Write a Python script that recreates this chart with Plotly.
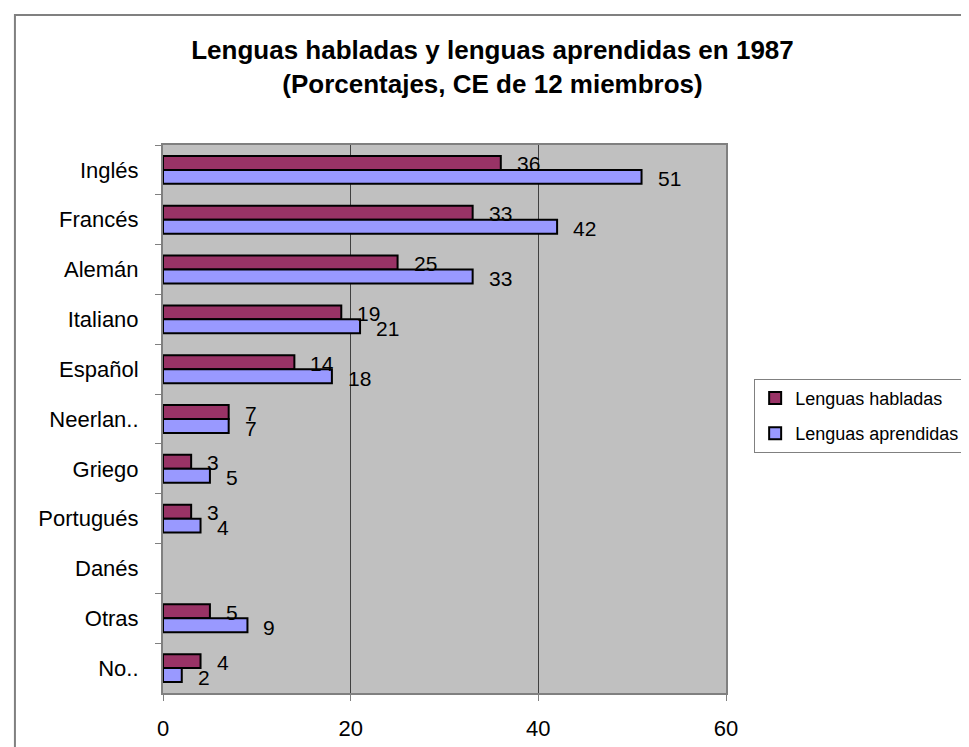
import plotly.graph_objects as go

categories = ["Inglés", "Francés", "Alemán", "Italiano", "Español", "Neerlan..",
              "Griego", "Portugués", "Danés", "Otras", "No.."]
habladas = [36, 33, 25, 19, 14, 7, 3, 3, None, 5, 4]
aprendidas = [51, 42, 33, 21, 18, 7, 5, 4, None, 9, 2]
x_ticks = [0, 20, 40, 60]

FONT = "Arial, Liberation Sans, sans-serif"
RED = "#993366"
BLUE = "#9999FF"
FS = 22

fig = go.Figure()
fig.add_trace(go.Bar(y=categories, x=habladas, orientation="h", name="Lenguas habladas",
                     legendgroup="h",
                     marker=dict(color=RED, line=dict(color="black", width=2))))
fig.add_trace(go.Bar(y=categories, x=aprendidas, orientation="h", name="Lenguas aprendidas",
                     legendgroup="a",
                     marker=dict(color=BLUE, line=dict(color="black", width=2))))

annotations = []
for cat, v in zip(categories, habladas):
    if v is not None:
        annotations.append(dict(x=v, y=cat, text=str(v), showarrow=False, xanchor="left",
                                xshift=14, yshift=6, font=dict(size=21, color="black", family=FONT)))
for cat, v in zip(categories, aprendidas):
    if v is not None:
        annotations.append(dict(x=v, y=cat, text=str(v), showarrow=False, xanchor="left",
                                xshift=14, yshift=-9, font=dict(size=21, color="black", family=FONT)))

fig.update_layout(
    width=969, height=747,
    margin=dict(l=155, r=251, t=137, b=62, autoexpand=False),
    paper_bgcolor="white", plot_bgcolor="#C0C0C0",
    barmode="group", bargap=0.44, bargroupgap=0,
    font=dict(family=FONT, size=FS, color="black"),
    title=dict(text="<b>Lenguas habladas y lenguas aprendidas en 1987<br>(Porcentajes, CE de 12 miembros)</b>",
               x=0.5, xanchor="center", y=0.932, yanchor="middle",
               font=dict(size=26, family=FONT, color="black")),
    legend=dict(x=1.05, y=0.506, xanchor="left", yanchor="middle",
                bordercolor="#808080", borderwidth=1, bgcolor="white",
                font=dict(size=18, family=FONT), traceorder="grouped",
                itemwidth=30, tracegroupgap=9),
    annotations=annotations,
    showlegend=True,
)

fig.update_xaxes(range=[0, 60], tickvals=x_ticks, ticktext=[str(t) for t in x_ticks],
                 showgrid=True, gridcolor="#404040", gridwidth=1,
                 ticks="outside", ticklen=6, tickcolor="#808080",
                 showline=True, linecolor="#808080", linewidth=2, mirror=True,
                 zeroline=False, ticklabelstandoff=9, tickfont=dict(size=FS))
fig.update_yaxes(autorange="reversed", type="category", tickson="boundaries",
                 ticks="outside", ticklen=6, tickcolor="#808080",
                 showline=True, linecolor="#808080", linewidth=2, mirror=True,
                 showgrid=False, ticklabelstandoff=18, tickfont=dict(size=FS))

fig.add_shape(type="rect", xref="paper", yref="paper",
              x0=-0.263, y0=-0.2, x1=1.5, y1=1.237,
              line=dict(color="#808080", width=2), fillcolor="rgba(0,0,0,0)", layer="below")

fig.write_html("out.html")
